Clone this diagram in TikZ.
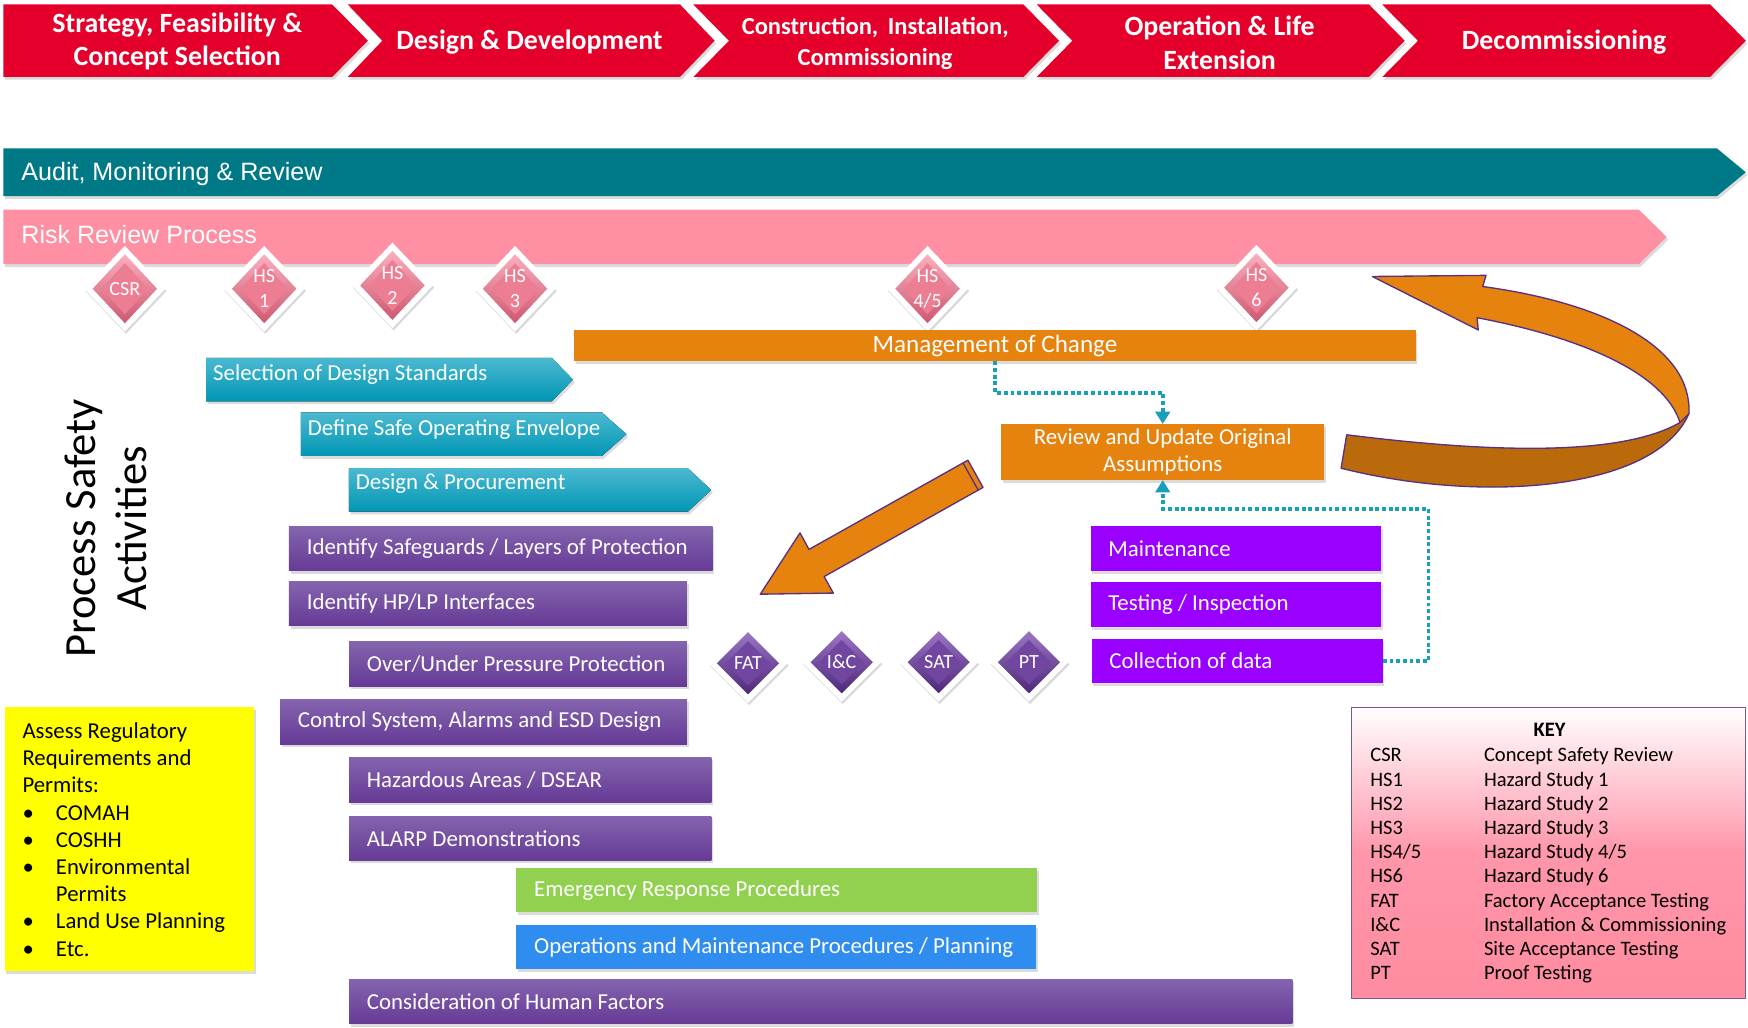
\documentclass[tikz,border=0pt]{standalone}
\usepackage{fontspec}
\setmainfont{Carlito}
\newfontfamily\arialf{Liberation Sans}
\usetikzlibrary{shapes.geometric,shadows,arrows.meta}
\definecolor{chevred}{RGB}{228,0,43}
\definecolor{auditteal}{RGB}{0,121,135}
\definecolor{riskpink}{RGB}{255,143,163}
\definecolor{mocorange}{RGB}{230,130,14}
\definecolor{darkorangeb}{RGB}{186,106,10}
\definecolor{arrowline}{RGB}{88,50,128}
\definecolor{cyantop}{RGB}{75,185,208}
\definecolor{cyanbot}{RGB}{0,150,180}
\definecolor{purptop}{RGB}{132,100,174}
\definecolor{purpbot}{RGB}{102,58,150}
\definecolor{violetbox}{RGB}{153,0,255}
\definecolor{greenbox}{RGB}{146,208,80}
\definecolor{bluebox}{RGB}{46,141,239}
\definecolor{dotteal}{RGB}{25,160,185}
\definecolor{keyline}{RGB}{120,90,150}
\definecolor{keymid}{RGB}{255,150,170}
\definecolor{keybot}{RGB}{255,140,160}
\definecolor{yellowbox}{RGB}{255,255,0}
\definecolor{pinklight}{RGB}{250,175,190}
\definecolor{pinkdark}{RGB}{205,88,112}
\definecolor{pinkcore}{RGB}{236,125,147}
\definecolor{purplight}{RGB}{155,118,195}
\definecolor{purpdark}{RGB}{78,40,122}
\definecolor{purpcore}{RGB}{112,70,160}
\newcommand\mkdia[5]{%
  \node[#1o] (#2) at (#3,#4) {};
  \node[#1m] (#2m) at (#2) {};
  \node[#1c] (#2c) at (#2) {};
  \node[diatext] (#2t) at (#2) {#5};}
\newcommand\lft[2]{\makebox[#1][l]{#2}}
\begin{document}
\begin{tikzpicture}[x=1pt,y=-1pt,
  shad/.style={drop shadow={opacity=0.28,shadow xshift=1.5pt,shadow yshift=-2.5pt}},
  chevtext/.style={text=white,font=\bfseries\fontsize{25}{30}\selectfont,align=center,inner sep=0pt},
  bartext/.style={anchor=west,text=white,inner sep=0pt,font=\fontsize{20.5}{24}\selectfont},
  barbox/.style={rectangle,anchor=west,inner xsep=16pt,inner ysep=0pt,minimum height=40pt,text=white,font=\fontsize{20.5}{24}\selectfont,shad},
  purplebox/.style={barbox,top color=purptop,bottom color=purpbot},
  cyanarrow/.style={top color=cyantop,bottom color=cyanbot,shad},
  pdo/.style={diamond,inner sep=0pt,minimum width=73pt,minimum height=77pt,fill=white,drop shadow={opacity=0.3,shadow xshift=1pt,shadow yshift=-2pt}},
  pdm/.style={diamond,inner sep=0pt,minimum width=58pt,minimum height=62pt,top color=pinklight,bottom color=pinkdark},
  pdc/.style={diamond,inner sep=0pt,minimum width=42pt,minimum height=46pt,fill=pinkcore},
  udo/.style={diamond,inner sep=0pt,minimum width=71pt,minimum height=71pt,fill=white,drop shadow={opacity=0.3,shadow xshift=1pt,shadow yshift=-2pt}},
  udm/.style={diamond,inner sep=0pt,minimum width=56pt,minimum height=56pt,top color=purplight,bottom color=purpdark},
  udc/.style={diamond,inner sep=0pt,minimum width=40pt,minimum height=40pt,fill=purpcore},
  diatext/.style={text=white,align=center,inner sep=0pt,font=\fontsize{18}{22}\selectfont},
  dotconn/.style={dotteal,line width=3.5pt,dash pattern=on 3.5pt off 2.5pt,-{Triangle[length=11pt,width=13pt]}},
  ribbon/.style={draw=arrowline,line width=1.2pt,line join=round}
]
\fill[white] (0,0) rectangle (1568,922);
\useasboundingbox (0,0) rectangle (1568,922);

% ---------- phase chevrons ----------
\fill[chevred,shad] (3,4) -- (298,4) -- (330,36.5) -- (298,69) -- (3,69) -- cycle;
\fill[chevred,shad] (312,4) -- (610,4) -- (641,36.5) -- (610,69) -- (312,69) -- (343,36.5) -- cycle;
\fill[chevred,shad] (622,4) -- (918,4) -- (950,36.5) -- (918,69) -- (622,69) -- (654,36.5) -- cycle;
\fill[chevred,shad] (930,4) -- (1228,4) -- (1260,36.5) -- (1228,69) -- (930,69) -- (962,36.5) -- cycle;
\fill[chevred,shad] (1240,4) -- (1534,4) -- (1566,36.5) -- (1534,69) -- (1240,69) -- (1272,36.5) -- cycle;
\node[chevtext] (ph1) at (159,37) {Strategy, Feasibility \&\\Concept Selection};
\node[chevtext] (ph2) at (475,38) {Design \& Development};
\node[chevtext,font=\bfseries\fontsize{22}{27}\selectfont] (ph3) at (785,39) {Construction,\, Installation,\\Commissioning};
\node[chevtext] (ph4) at (1094,38.5) {Operation \& Life\\Extension};
\node[chevtext] (ph5) at (1403,38) {Decommissioning};

% ---------- audit and risk bars ----------
\fill[auditteal,shad] (3,133) -- (1540,133) -- (1566,154.5) -- (1540,176) -- (3,176) -- cycle;
\node[anchor=west,text=white,inner sep=0pt,font=\arialf\fontsize{22.5}{26}\selectfont] (audit) at (19,156) {Audit, Monitoring \& Review};
\fill[riskpink,shad] (3,188) -- (1470,188) -- (1495,212.5) -- (1470,237) -- (3,237) -- cycle;
\node[anchor=west,text=white,inner sep=0pt,font=\arialf\fontsize{22.5}{26}\selectfont] (risk) at (19,210.5) {Risk Review Process};

% ---------- pink diamonds ----------
\mkdia{pd}{csr}{112}{259}{CSR}
\mkdia{pd}{hsa}{237}{259}{HS\\1}
\mkdia{pd}{hsb}{352}{256}{HS\\2}
\mkdia{pd}{hsc}{462}{259}{HS\\3}
\mkdia{pd}{hsd}{832}{259}{HS\\4/5}
\mkdia{pd}{hse}{1127}{258}{HS\\6}

% ---------- management of change ----------
\node[fill=mocorange,minimum width=755pt,minimum height=28pt,inner sep=0pt,text=white,font=\fontsize{22.5}{24}\selectfont,shad] (moc) at (892.5,310) {Management of Change};

% ---------- cyan arrows ----------
\fill[cyanarrow] (185,321) -- (495,321) -- (514,340.5) -- (495,360) -- (185,360) -- cycle;
\node[bartext] (seld) at (191,336) {Selection of Design Standards};
\fill[cyanarrow] (270,370) -- (540,370) -- (562,389.5) -- (540,409) -- (270,409) -- cycle;
\node[bartext] (safe) at (276,385) {Define Safe Operating Envelope};
\fill[cyanarrow] (313,420) -- (617,420) -- (638,439.5) -- (617,459) -- (313,459) -- cycle;
\node[bartext] (dproc) at (319,434) {Design \& Procurement};

% ---------- activity bars ----------
\node[purplebox] (safeg) at (259,492) {\lft{348pt}{Identify Safeguards / Layers of Protection}};
\node[purplebox] (hplp) at (259,541.5) {\lft{325pt}{Identify HP/LP Interfaces}};
\node[purplebox] (ovun) at (313,595.5) {\lft{271pt}{Over/Under Pressure Protection}};
\node[purplebox] (ctrl) at (251,647.5) {\lft{333pt}{Control System, Alarms and ESD Design}};
\node[purplebox] (haz) at (313,699.5) {\lft{293pt}{Hazardous Areas / DSEAR}};
\node[purplebox] (alarp) at (313,752) {\lft{293pt}{ALARP Demonstrations}};
\node[barbox,fill=greenbox] (erp) at (463,798.5) {\lft{435pt}{Emergency Response Procedures}};
\node[barbox,fill=bluebox] (omp) at (463,849.5) {\lft{434pt}{Operations and Maintenance Procedures / Planning}};
\node[purplebox] (human) at (313,898.5) {\lft{814pt}{Consideration of Human Factors}};

% ---------- review and operation boxes ----------
\node[fill=mocorange,minimum width=290pt,minimum height=50pt,inner sep=0pt,align=center,text=white,font=\fontsize{20.5}{24}\selectfont,shad] (review) at (1043,405.5) {Review and Update Original\\Assumptions};
\node[barbox,fill=violetbox] (maint) at (978,492) {\lft{229pt}{Maintenance}};
\node[barbox,fill=violetbox] (test) at (978,542.5) {\lft{229pt}{Testing / Inspection}};
\node[barbox,fill=violetbox] (coll) at (979,593) {\lft{229pt}{Collection of data}};

% ---------- dotted connectors ----------
\draw[dotconn] (moc.south) -- ++(0,28) -| (review.north);
\draw[dotconn] (coll.east) -- ++(41,0) |- ([yshift=-25.5pt]review.south) -- (review.south);

% ---------- straight block arrow ----------
\filldraw[ribbon,fill=mocorange] (868.2,412.8) -- (881.8,437.2) -- (739.3,517.2) -- (747.5,532) -- (682,533) -- (717.6,478) -- (725.7,492.8) -- cycle;
\draw[arrowline,line width=1.2pt] (863.8,415.2) -- (877.5,439.7);

% ---------- curved ribbon arrow ----------
\filldraw[ribbon,fill=darkorangeb] (1208,390) .. controls (1320,404) and (1450,412) .. (1507,379) -- (1515,371) .. controls (1485,440) and (1330,452) .. (1203,420) -- cycle;
\filldraw[ribbon,fill=mocorange] (1507,379) .. controls (1493,335) and (1420,303) .. (1325,285) -- (1326,296) -- (1231,248) -- (1333,247) -- (1330,257) .. controls (1440,272) and (1518,312) .. (1515,371) -- cycle;

% ---------- purple diamonds ----------
\mkdia{ud}{fat}{671}{595}{FAT}
\mkdia{ud}{ic}{755}{594}{I\&C}
\mkdia{ud}{sat}{842}{594}{SAT}
\mkdia{ud}{pt}{923}{594}{PT}

% ---------- regulatory box ----------
\node[fill=yellowbox,minimum width=224pt,minimum height=237pt,anchor=north west,inner sep=0pt,shad] (yel) at (4,634) {};
\node[anchor=north west,inner sep=0pt,align=left,font=\fontsize{20.4}{24.4}\selectfont] (yeltxt) at (20,648) {Assess Regulatory\\Requirements and\\Permits:\\\lft{30pt}{•}COMAH\\\lft{30pt}{•}COSHH\\\lft{30pt}{•}Environmental\\\hspace*{30pt}Permits\\\lft{30pt}{•}Land Use Planning\\\lft{30pt}{•}Etc.};

% ---------- key ----------
\node[draw=keyline,line width=1.2pt,minimum width=353pt,minimum height=261pt,anchor=north west,inner sep=0pt,top color=white,bottom color=keybot,middle color=keymid] (keybox) at (1212,634) {};
\node[font=\bfseries\fontsize{18.4}{21}\selectfont,inner sep=0pt] (keyhead) at (1390,655) {KEY};
\node[anchor=north west,inner sep=0pt,font=\fontsize{18.4}{21.7}\selectfont] (keytab) at (1229,668) {\begin{tabular}{@{}p{102pt}@{}l@{}}CSR & Concept Safety Review\\HS1 & Hazard Study 1\\HS2 & Hazard Study 2\\HS3 & Hazard Study 3\\HS4/5 & Hazard Study 4/5\\HS6 & Hazard Study 6\\FAT & Factory Acceptance Testing\\I\&C & Installation \& Commissioning\\SAT & Site Acceptance Testing\\PT & Proof Testing\end{tabular}};

% ---------- side title ----------
\node[rotate=90,align=center,font=\fontsize{40}{46}\selectfont,inner sep=0pt] (psa) at (95,474) {Process Safety\\Activities};
\end{tikzpicture}
\end{document}
